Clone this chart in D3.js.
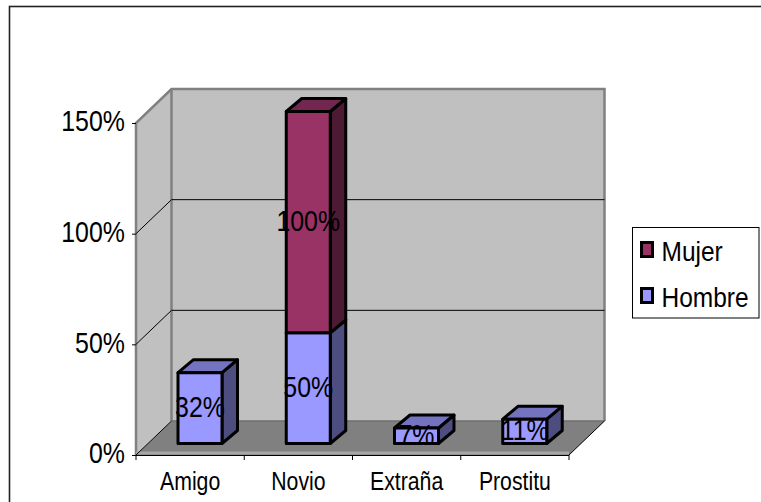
<!DOCTYPE html>
<html><head><meta charset="utf-8"><script src="https://cdn.jsdelivr.net/npm/d3@7"></script>
<style>html,body{margin:0;background:#fff}svg{display:block}text{font-family:"Liberation Sans",Arial,sans-serif;fill:#000}</style></head>
<body><svg id="c" width="761" height="502"></svg>
<script>
const categories=["Amigo","Novio","Extraña","Prostitu"];
const hombre=[32,50,7,11];
const mujer=[0,100,0,0];
const hombreLabels=["32%","50%","7%","11%"];
const mujerLabels=["","100%","",""];
const yTicks=[0,50,100,150];
const legendItems=["Mujer","Hombre"];
const colors={mujer:"#993366",mujerTop:"#732650",mujerSide:"#4d1a33",hombre:"#9999ff",hombreTop:"#7373bf",hombreSide:"#4d4d80"};

const svg=d3.select("#c");
const X0=136,X1=569,Yb=455,Yt=123,DX=35.5,DY=34;
const x=d3.scaleBand().domain(categories).range([X0,X1]);
const y=d3.scaleLinear().domain([0,150]).range([Yb,Yt]);
const pts=a=>a.map(p=>p.join(",")).join(" ");
const FONT='"Liberation Sans",Arial,sans-serif';

// outer frame: only top and left edges fall inside the picture
svg.append("rect").attr("x",9.5).attr("y",6.5).attr("width",800).attr("height",540).attr("fill","#fff").attr("stroke","#222").attr("stroke-width",1.6);

// floor and walls
svg.append("polygon").attr("points",pts([[X0,Yb],[X0+DX,Yb-DY],[X1+DX,Yb-DY],[X1,Yb]])).attr("fill","#808080");
svg.append("polygon").attr("points",pts([[X0,Yb],[X0,Yt],[X0+DX,Yt-DY],[X0+DX,Yb-DY]])).attr("fill","#c0c0c0");
svg.append("rect").attr("x",X0+DX).attr("y",Yt-DY).attr("width",X1-X0).attr("height",Yb-Yt).attr("fill","#c0c0c0");
const gray="#808080";
svg.append("polyline").attr("points",pts([[X0,Yb],[X0,Yt],[X0+DX,Yt-DY],[X1+DX,Yt-DY],[X1+DX,Yb-DY]])).attr("fill","none").attr("stroke",gray).attr("stroke-width",2.5);
svg.append("line").attr("x1",X0+DX).attr("x2",X0+DX).attr("y1",Yt-DY).attr("y2",Yb-DY).attr("stroke",gray).attr("stroke-width",2.5);
svg.append("line").attr("x1",X0+DX).attr("x2",X1+DX).attr("y1",Yb-DY).attr("y2",Yb-DY).attr("stroke","#6e6e6e").attr("stroke-width",1.5);
svg.append("line").attr("x1",X0).attr("x2",X1).attr("y1",Yb-2).attr("y2",Yb-2).attr("stroke","#a6a6a6").attr("stroke-width",3);

// gridlines
yTicks.filter(t=>t<150).forEach(t=>{
  const yy=y(t);
  const p=[[X0,yy],[X0+DX,yy-DY]];
  if(t>0) p.push([X1+DX,yy-DY]);
  svg.append("polyline").attr("points",pts(p)).attr("fill","none").attr("stroke","#000").attr("stroke-width",1);
});
svg.append("line").attr("x1",X1).attr("y1",Yb).attr("x2",X1+DX).attr("y2",Yb-DY).attr("stroke","#000");

// axes
const ya=svg.append("g").attr("transform",`translate(${X0},0)`).call(d3.axisLeft(y).tickValues(yTicks).tickFormat(d=>d+"%").tickSize(4));
ya.select(".domain").remove();
ya.selectAll("line").attr("stroke","#000");
ya.selectAll("text").attr("font-size",29).style("font-family",FONT).attr("x",-11/0.86).attr("y",-1.5).attr("transform","scale(0.86,1)");
const xa=svg.append("g").attr("transform",`translate(0,${Yb})`).call(d3.axisBottom(x).tickSize(0));
xa.select(".domain").remove();
xa.selectAll("text").attr("font-size",25).attr("x",0).attr("y",35).attr("dy",0).attr("transform","scale(0.85,1)").style("font-family",FONT);
svg.append("line").attr("x1",X0).attr("x2",X1).attr("y1",Yb+.5).attr("y2",Yb+.5).attr("stroke","#000");
d3.range(5).forEach(i=>{const xx=X0+i*x.step();svg.append("line").attr("x1",xx).attr("x2",xx).attr("y1",Yb).attr("y2",Yb+5).attr("stroke","#000");});

// bars
const inset=42,bw=44,dx=15.5,dy=13,base=Yb-11.5;
const h=v=>y(0)-y(v);
function bar(i,from,to,f,t,s){
  const l=x(categories[i])+inset,r=l+bw,yb=base-h(from),yt=base-h(to);
  const g=svg.append("g").attr("stroke","#000").attr("stroke-width",3).attr("stroke-linejoin","round");
  g.append("polygon").attr("points",pts([[r,yb],[r+dx,yb-dy],[r+dx,yt-dy],[r,yt]])).attr("fill",s);
  g.append("polygon").attr("points",pts([[l,yt],[l+dx,yt-dy],[r+dx,yt-dy],[r,yt]])).attr("fill",t);
  g.append("rect").attr("x",l).attr("y",yt).attr("width",bw).attr("height",yb-yt).attr("fill",f);
}
categories.forEach((c,i)=>{
  bar(i,0,hombre[i],colors.hombre,colors.hombreTop,colors.hombreSide);
  if(mujer[i]>0) bar(i,hombre[i],hombre[i]+mujer[i],colors.mujer,colors.mujerTop,colors.mujerSide);
});
const labels=[];
categories.forEach((c,i)=>{
  const cx=x(c)+inset+bw/2;
  labels.push([cx,base-h(hombre[i]/2)-1,hombreLabels[i]]);
  if(mujer[i]>0) labels.push([cx,base-h(hombre[i]+mujer[i]/2)-1,mujerLabels[i]]);
});
svg.append("clipPath").attr("id","lc").append("rect").attr("x",0).attr("y",0).attr("width",761).attr("height",base);
svg.append("g").attr("clip-path","url(#lc)").selectAll("text").data(labels).join("text")
  .attr("transform",d=>`translate(${d[0]},${d[1]}) scale(0.86,1)`).attr("dy","0.35em").attr("text-anchor","middle").attr("font-size",29).text(d=>d[2]);

// legend
const lg=svg.append("g");
lg.append("rect").attr("x",632.5).attr("y",227.5).attr("width",126.5).attr("height",90.5).attr("fill","#fff").attr("stroke","#000");
legendItems.forEach((n,i)=>{
  const yy=249.5+i*46;
  lg.append("rect").attr("x",641.5).attr("y",yy-7).attr("width",11).attr("height",14).attr("fill",i?colors.hombre:colors.mujer).attr("stroke","#000").attr("stroke-width",3);
  lg.append("text").attr("transform",`translate(661.5,${yy+11.5}) scale(0.875,1)`).attr("font-size",28).text(n);
});
</script></body></html>
